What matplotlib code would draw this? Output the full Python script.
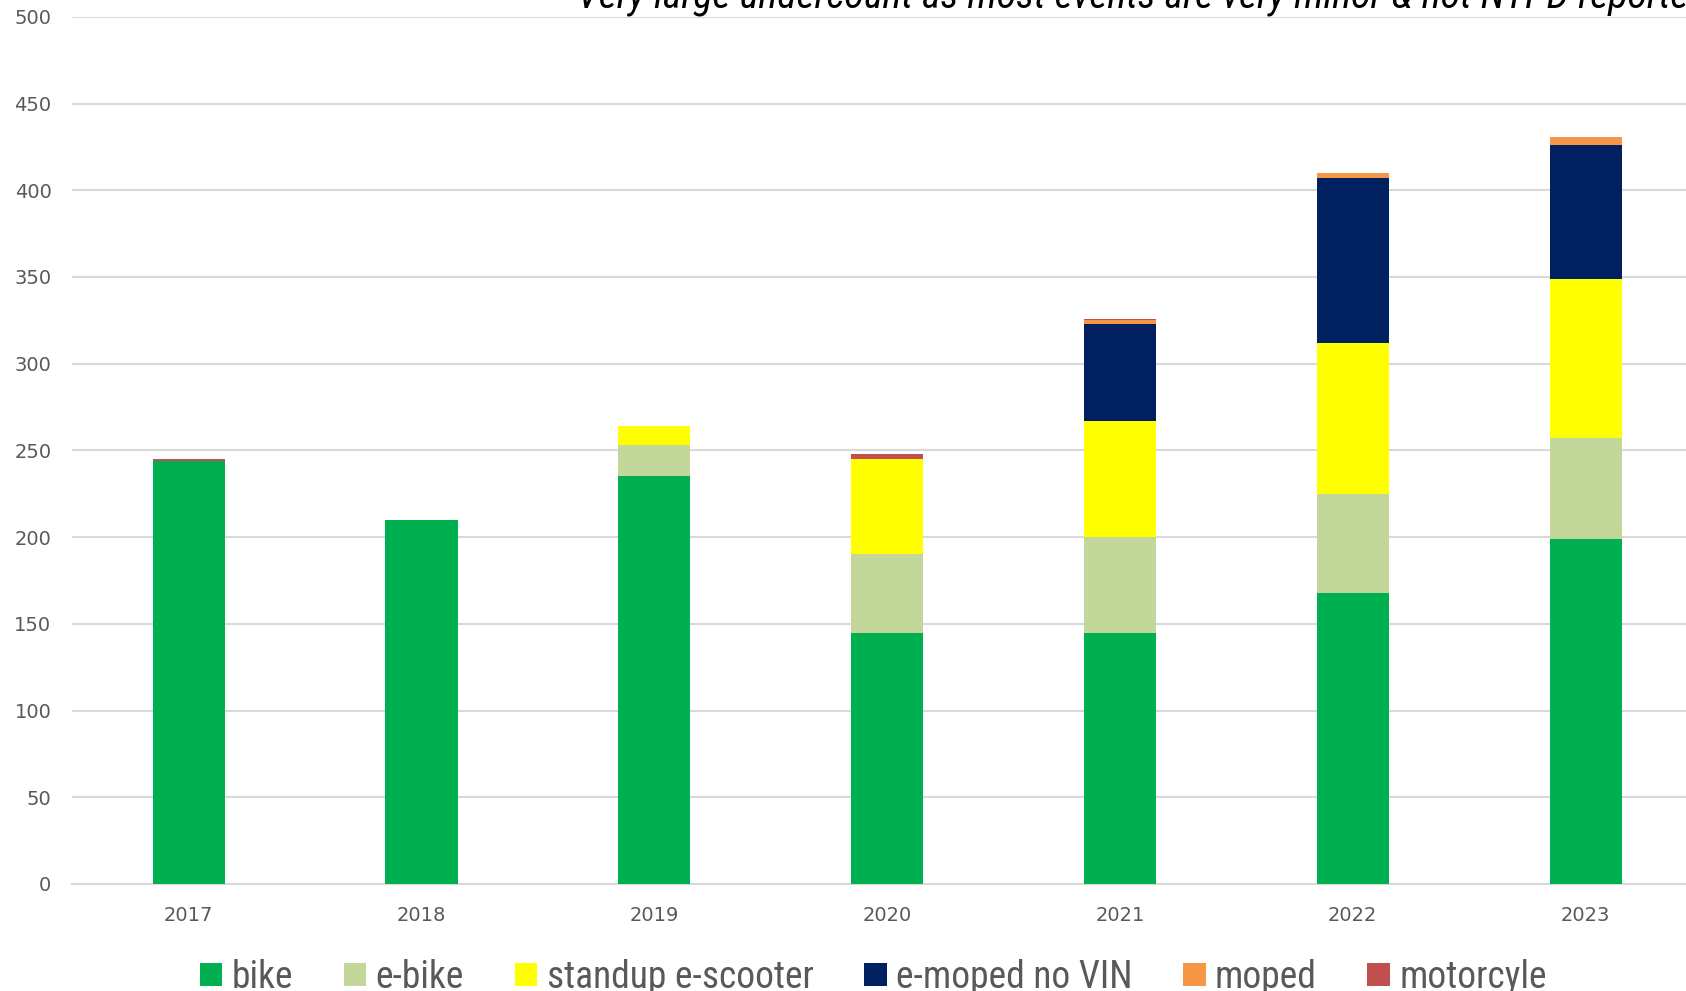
import matplotlib
matplotlib.use("Agg")
import matplotlib.pyplot as plt
import numpy as np

years = ["2017", "2018", "2019", "2020", "2021", "2022", "2023"]
bike = [244, 210, 235, 145, 145, 168, 199]
e_bike = [0, 0, 18, 45, 55, 57, 58]
scooter = [0, 0, 11, 55, 67, 87, 92]
e_moped = [0, 0, 0, 0, 56, 95, 77]
moped = [0, 0, 0, 0, 2, 3, 5]
motorcycle = [1, 0, 0, 3, 1, 0, 0]

series = [
    ("bike", bike, "#00B050"),
    ("e-bike", e_bike, "#C4D79B"),
    ("standup e-scooter", scooter, "#FFFF00"),
    ("e-moped no VIN", e_moped, "#002060"),
    ("moped", moped, "#F79646"),
    ("motorcyle", motorcycle, "#C0504D"),
]

narrow = ["Roboto Condensed", "Lato", "DejaVu Sans"]
grey = "#595959"

fig = plt.figure(figsize=(16.86, 9.91), dpi=100)
ax = fig.add_axes([0.0429, 0.108, 0.9666, 0.875])

x = np.arange(len(years))
bottom = np.zeros(len(years))
for name, vals, col in series:
    vals = np.array(vals, dtype=float)
    ax.bar(x, vals, 0.31, bottom=bottom, color=col, label=name, zorder=3)
    bottom += vals

ax.set_xlim(-0.5, len(years) - 0.5)
ax.set_ylim(0, 500)
ax.set_yticks(range(0, 501, 50))
ax.set_xticks(x)
ax.set_xticklabels(years)
ax.tick_params(length=0, labelsize=14, labelcolor=grey)
ax.tick_params(axis="y", pad=15)
ax.tick_params(axis="x", pad=16)
ax.grid(axis="y", color="#D9D9D9", linewidth=1.5, zorder=0)
for s in ["top", "right", "left"]:
    ax.spines[s].set_visible(False)
ax.spines["bottom"].set_color("#D9D9D9")
ax.spines["bottom"].set_linewidth(1.5)

# subtitle sits at the very top edge, running off to the right
fig.text(0.342, 0.992, "Very large undercount as most events are very minor & not NYPD-reported",
         family=narrow, style="italic", fontsize=28.8, color="black", va="baseline", ha="left")

fig.legend(loc="center", bbox_to_anchor=(0.518, 0.014), ncol=6, frameon=False,
           prop={"family": narrow, "size": 27}, labelcolor=grey,
           handlelength=0.6, handleheight=0.6, handletextpad=0.25, columnspacing=1.35)

fig.savefig("out.png", dpi=100)
